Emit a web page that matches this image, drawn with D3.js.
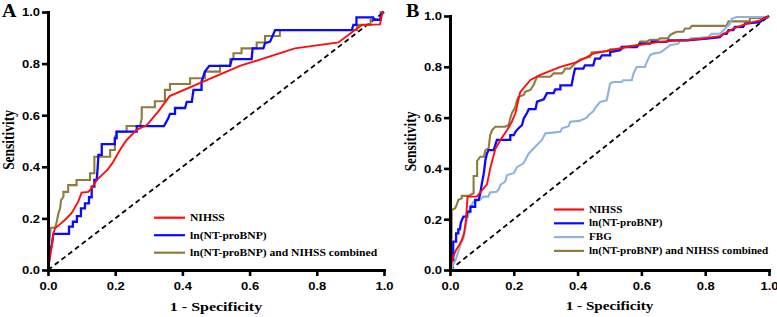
<!DOCTYPE html>
<html><head><meta charset="utf-8">
<script src="https://cdn.jsdelivr.net/npm/d3@7"></script>
<style>body{margin:0;background:#fff}svg{display:block}</style>
</head><body>
<svg id="c" width="777" height="317"></svg>
<script>
// ---------- data ----------
const tickValues = [0, 0.2, 0.4, 0.6, 0.8, 1.0];
const tickLabels = ["0.0", "0.2", "0.4", "0.6", "0.8", "1.0"];
const xTitle = "1 - Specificity";
const yTitle = "Sensitivity";
const legendA = ["NIHSS", "ln(NT-proBNP)", "ln(NT-proBNP) and NIHSS combined"];
const legendB = ["NIHSS", "ln(NT-proBNP)", "FBG", "ln(NT-proBNP) and NIHSS combined"];
const diagonal = [[0, 0], [1, 1]];

// Panel A ROC points [1-specificity, sensitivity]
const aNIHSS = [[0,0],[0.011,0.09],[0.016,0.142],[0.021,0.162],[0.031,0.172],[0.051,0.195],[0.07,0.22],[0.09,0.265],[0.1,0.3],[0.12,0.303],[0.13,0.317],[0.145,0.349],[0.158,0.365],[0.178,0.39],[0.192,0.415],[0.214,0.465],[0.234,0.504],[0.264,0.543],[0.294,0.562],[0.328,0.614],[0.362,0.674],[0.462,0.730],[0.571,0.791],[0.735,0.859],[0.864,0.882],[0.934,0.950],[0.988,0.952],[0.995,0.995],[1,1]];
const aBNP = [[0,0],[0.006,0.071],[0.011,0.097],[0.016,0.14],[0.0625,0.14],[0.0625,0.168],[0.074,0.168],[0.074,0.187],[0.086,0.187],[0.086,0.209],[0.098,0.209],[0.098,0.239],[0.11,0.239],[0.11,0.258],[0.122,0.258],[0.122,0.282],[0.13,0.282],[0.13,0.323],[0.138,0.323],[0.138,0.349],[0.145,0.349],[0.148,0.4],[0.15,0.446],[0.16,0.446],[0.16,0.488],[0.199,0.488],[0.199,0.51],[0.204,0.51],[0.204,0.536],[0.264,0.536],[0.264,0.558],[0.345,0.558],[0.358,0.588],[0.363,0.605],[0.378,0.605],[0.378,0.628],[0.408,0.628],[0.413,0.652],[0.428,0.652],[0.433,0.698],[0.457,0.698],[0.457,0.730],[0.467,0.769],[0.48,0.791],[0.542,0.791],[0.547,0.817],[0.606,0.817],[0.609,0.859],[0.641,0.859],[0.646,0.879],[0.661,0.885],[0.676,0.930],[0.904,0.930],[0.909,0.950],[0.918,0.950],[0.918,0.979],[0.968,0.979],[0.97,0.97],[0.99,0.97],[0.99,0.99],[1,1]];
const aComb = [[0,0],[0.003,0.1],[0.008,0.164],[0.021,0.164],[0.026,0.187],[0.031,0.22],[0.036,0.239],[0.039,0.271],[0.046,0.284],[0.046,0.303],[0.06,0.303],[0.06,0.329],[0.085,0.329],[0.085,0.349],[0.125,0.349],[0.125,0.375],[0.138,0.375],[0.138,0.439],[0.185,0.439],[0.185,0.465],[0.199,0.465],[0.199,0.517],[0.204,0.517],[0.204,0.536],[0.234,0.536],[0.234,0.558],[0.274,0.558],[0.279,0.588],[0.279,0.631],[0.318,0.631],[0.318,0.654],[0.348,0.654],[0.348,0.698],[0.363,0.698],[0.363,0.721],[0.423,0.721],[0.423,0.743],[0.467,0.743],[0.467,0.769],[0.512,0.769],[0.512,0.791],[0.542,0.791],[0.542,0.817],[0.552,0.817],[0.552,0.840],[0.576,0.840],[0.576,0.859],[0.621,0.859],[0.621,0.882],[0.646,0.882],[0.646,0.907],[0.69,0.907],[0.69,0.93],[0.92,0.93],[0.92,0.95],[0.96,0.95],[0.96,0.97],[0.99,0.97],[0.99,1],[1,1]];

// Panel B ROC points
const bNIHSS = [[0,0],[0.005,0.026],[0.01,0.052],[0.019,0.079],[0.026,0.092],[0.037,0.118],[0.044,0.144],[0.05,0.197],[0.055,0.289],[0.084,0.289],[0.116,0.337],[0.126,0.40],[0.142,0.476],[0.158,0.512],[0.179,0.551],[0.194,0.584],[0.205,0.617],[0.212,0.656],[0.22,0.70],[0.252,0.748],[0.283,0.768],[0.346,0.800],[0.398,0.818],[0.449,0.852],[0.554,0.878],[0.658,0.898],[0.773,0.908],[0.846,0.921],[0.888,0.950],[0.930,0.970],[0.972,0.983],[1,1]];
const bBNP = [[0,0],[0.003,0.039],[0.01,0.039],[0.01,0.112],[0.019,0.112],[0.019,0.144],[0.026,0.144],[0.026,0.16],[0.031,0.16],[0.034,0.187],[0.042,0.21],[0.052,0.21],[0.054,0.23],[0.064,0.23],[0.064,0.249],[0.079,0.249],[0.079,0.276],[0.09,0.276],[0.095,0.302],[0.1,0.341],[0.106,0.381],[0.111,0.433],[0.116,0.459],[0.121,0.472],[0.137,0.472],[0.147,0.512],[0.189,0.512],[0.189,0.531],[0.2,0.531],[0.205,0.544],[0.215,0.558],[0.226,0.571],[0.231,0.597],[0.241,0.617],[0.247,0.633],[0.268,0.633],[0.273,0.663],[0.294,0.672],[0.304,0.696],[0.325,0.696],[0.33,0.711],[0.346,0.711],[0.346,0.727],[0.381,0.727],[0.387,0.767],[0.392,0.793],[0.418,0.793],[0.423,0.806],[0.449,0.806],[0.455,0.832],[0.47,0.832],[0.476,0.845],[0.502,0.845],[0.502,0.858],[0.533,0.865],[0.538,0.878],[0.585,0.878],[0.596,0.891],[0.627,0.891],[0.632,0.898],[0.679,0.898],[0.684,0.904],[0.742,0.904],[0.805,0.911],[0.846,0.917],[0.857,0.93],[0.867,0.93],[0.873,0.944],[0.888,0.944],[0.893,0.957],[0.919,0.957],[0.925,0.97],[0.972,0.976],[0.982,0.989],[1,1]];
const bFBG = [[0,0],[0.005,0],[0.01,0.02],[0.021,0.052],[0.031,0.092],[0.042,0.125],[0.052,0.19],[0.063,0.243],[0.073,0.269],[0.094,0.276],[0.104,0.289],[0.12,0.289],[0.125,0.305],[0.146,0.308],[0.153,0.318],[0.158,0.335],[0.173,0.348],[0.179,0.374],[0.2,0.381],[0.21,0.405],[0.23,0.42],[0.236,0.433],[0.247,0.459],[0.268,0.486],[0.288,0.512],[0.299,0.538],[0.346,0.544],[0.351,0.558],[0.372,0.566],[0.377,0.584],[0.405,0.587],[0.429,0.6],[0.434,0.609],[0.449,0.625],[0.455,0.637],[0.47,0.661],[0.491,0.668],[0.502,0.734],[0.512,0.74],[0.538,0.74],[0.543,0.747],[0.57,0.747],[0.575,0.773],[0.585,0.799],[0.611,0.799],[0.617,0.819],[0.627,0.845],[0.637,0.852],[0.658,0.856],[0.669,0.865],[0.69,0.885],[0.716,0.891],[0.721,0.904],[0.747,0.904],[0.752,0.911],[0.81,0.917],[0.82,0.93],[0.846,0.93],[0.857,0.944],[0.867,0.957],[0.878,0.97],[0.883,0.989],[0.898,0.996],[0.998,0.996],[1,1]];
const bComb = [[0,0],[0,0.125],[0.005,0.125],[0.005,0.236],[0.016,0.243],[0.021,0.256],[0.026,0.276],[0.037,0.282],[0.037,0.292],[0.058,0.292],[0.074,0.302],[0.074,0.37],[0.085,0.37],[0.085,0.43],[0.095,0.446],[0.106,0.446],[0.111,0.472],[0.121,0.479],[0.126,0.531],[0.132,0.551],[0.142,0.564],[0.173,0.564],[0.184,0.571],[0.189,0.597],[0.194,0.617],[0.205,0.643],[0.21,0.669],[0.215,0.682],[0.231,0.689],[0.236,0.702],[0.252,0.709],[0.262,0.728],[0.273,0.761],[0.314,0.761],[0.325,0.774],[0.351,0.774],[0.356,0.781],[0.361,0.793],[0.376,0.793],[0.397,0.819],[0.408,0.829],[0.439,0.839],[0.444,0.856],[0.491,0.861],[0.502,0.869],[0.54,0.869],[0.545,0.878],[0.59,0.886],[0.596,0.899],[0.617,0.899],[0.627,0.906],[0.653,0.906],[0.658,0.912],[0.684,0.912],[0.69,0.925],[0.70,0.932],[0.711,0.938],[0.731,0.938],[0.737,0.951],[0.752,0.951],[0.758,0.961],[0.867,0.961],[0.873,0.979],[0.94,0.979],[0.94,0.992],[0.995,0.992],[1,1]];

// ---------- styles ----------
const RED = "#ff0d0d", BLUE = "#0a0aff", OLIVE = "#8e7c3f", LIGHT = "#8fb2df";
const SANS = "'Liberation Sans', Arial, sans-serif";
const SERIF = "'Liberation Serif', 'Times New Roman', serif";
const SQ = 0.84; // vertical squash of text seen in the reference

const svg = d3.select("#c");

function panel(cfg) {
  const x = d3.scaleLinear().domain([0, 1]).range([cfg.left, cfg.right]);
  const y = d3.scaleLinear().domain([0, 1]).range([cfg.bottom, cfg.top]);
  const g = svg.append("g");
  const line = d3.line().x(d => x(d[0])).y(d => y(d[1]));

  // diagonal reference
  g.append("path").attr("d", line(diagonal)).attr("fill", "none")
    .attr("stroke", "#000").attr("stroke-width", 1.8).attr("stroke-dasharray", "5,3.5");

  // curves
  cfg.series.forEach(s => {
    g.append("path").attr("d", line(s.data)).attr("fill", "none")
      .attr("stroke", s.color).attr("stroke-width", s.width)
      .attr("stroke-linejoin", "miter").attr("stroke-linecap", "butt");
  });

  // axes
  const fmt = v => tickLabels[tickValues.indexOf(v)];
  const xa = g.append("g").attr("transform", `translate(0,${cfg.bottom})`)
    .call(d3.axisBottom(x).tickValues(tickValues).tickFormat(fmt).tickSize(6).tickSizeOuter(0));
  const ya = g.append("g").attr("transform", `translate(${cfg.left},0)`)
    .call(d3.axisLeft(y).tickValues(tickValues).tickFormat(fmt).tickSize(6).tickSizeOuter(0));
  [xa, ya].forEach(a => {
    a.select(".domain").attr("stroke-width", 3).attr("stroke-linecap", "square");
    a.selectAll(".tick line").attr("stroke-width", 2.6);
    a.selectAll(".tick text").attr("font-family", SANS).attr("font-weight", "bold")
      .attr("font-size", 13).attr("fill", "#000");
  });
  xa.selectAll(".tick text").attr("y", 0).attr("dy", 0)
    .attr("transform", `translate(0,19.5) scale(1,${SQ})`);
  ya.selectAll(".tick text").attr("x", 0).attr("dy", "0.36em")
    .attr("transform", `translate(-8,0) scale(1,${SQ})`);

  // axis titles
  g.append("text").text(xTitle)
    .attr("transform", `translate(${(cfg.left + cfg.right) / 2},${cfg.xTitleY}) scale(1,${SQ})`)
    .attr("text-anchor", "middle").attr("font-family", SERIF).attr("font-weight", "bold")
    .attr("font-size", cfg.xTitleSize).attr("fill", "#000");
  g.append("text").text(yTitle)
    .attr("transform", `translate(${cfg.yTitleX},${cfg.yTitleY}) rotate(-90) scale(${SQ},1)`)
    .attr("text-anchor", "middle").attr("font-family", SERIF).attr("font-weight", "bold")
    .attr("font-size", 16).attr("fill", "#000");

  // panel letter
  g.append("text").text(cfg.letter)
    .attr("transform", `translate(${cfg.letterX},${cfg.letterY}) scale(1,0.9)`)
    .attr("font-family", SERIF).attr("font-weight", "bold").attr("font-size", 20).attr("fill", "#000");

  // legend
  cfg.legend.labels.forEach((lab, i) => {
    const ly = cfg.legend.y0 + i * cfg.legend.dy;
    g.append("line").attr("x1", cfg.legend.x1).attr("x2", cfg.legend.x2)
      .attr("y1", ly).attr("y2", ly).attr("stroke", cfg.legend.colors[i]).attr("stroke-width", 2.2);
    g.append("text").text(lab)
      .attr("transform", `translate(${cfg.legend.tx},${ly}) scale(1,${SQ})`)
      .attr("dy", "0.34em").attr("font-family", SERIF).attr("font-weight", "bold")
      .attr("font-size", cfg.legend.size).attr("fill", "#000");
  });
}

panel({
  left: 48, right: 384, top: 12, bottom: 270,
  letter: "A", letterX: 2, letterY: 17,
  xTitleY: 310.5, xTitleSize: 16, yTitleX: 14, yTitleY: 140,
  series: [
    { data: aComb, color: OLIVE, width: 2.1 },
    { data: aBNP, color: BLUE, width: 2.3 },
    { data: aNIHSS, color: RED, width: 1.9 }
  ],
  legend: { labels: legendA, colors: [RED, BLUE, OLIVE], x1: 154, x2: 185, tx: 190, y0: 217.7, dy: 17.5, size: 11.6 }
});

panel({
  left: 450, right: 769, top: 16, bottom: 270,
  letter: "B", letterX: 406, letterY: 16.5,
  xTitleY: 310, xTitleSize: 15.2, yTitleX: 416, yTitleY: 141.5,
  series: [
    { data: bComb, color: OLIVE, width: 2.1 },
    { data: bFBG, color: LIGHT, width: 2.1 },
    { data: bBNP, color: BLUE, width: 2.3 },
    { data: bNIHSS, color: RED, width: 1.9 }
  ],
  legend: { labels: legendB, colors: [RED, BLUE, LIGHT, OLIVE], x1: 554, x2: 584, tx: 589, y0: 209.5, dy: 13.8, size: 11.1 }
});
</script>
</body></html>
